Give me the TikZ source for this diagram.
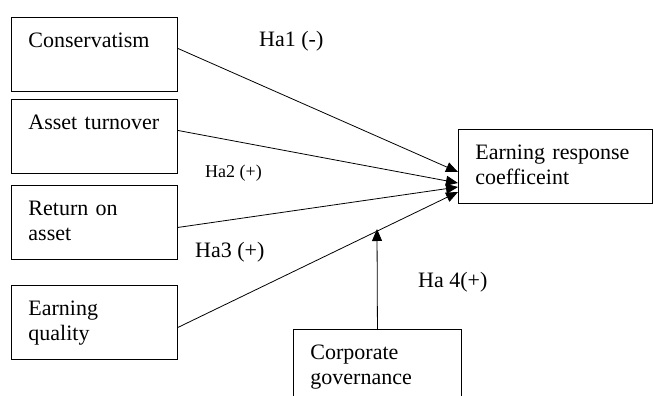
\documentclass[tikz,border=0pt]{standalone}
\usepackage{fontspec}
\setmainfont{Liberation Serif}
\usetikzlibrary{arrows.meta}
\begin{document}
\begin{tikzpicture}[x=1pt,y=-1pt]
        \tikzstyle{varbox}=[draw, line width=0.9pt, anchor=north west, align=left, inner xsep=17pt, inner ysep=0pt, text height=30pt, text depth=44pt, font=\fontsize{22}{25}\selectfont]
        \tikzstyle{hyp}=[anchor=base west, inner sep=0pt, font=\fontsize{22}{25}\selectfont]
        \tikzstyle{link}=[-{Triangle[length=12pt,width=10pt]}, line width=0.8pt]
        \clip (0,0) rectangle (654,396);
        \node[varbox, text width=132pt] (cons) at (11,17) {Conservatism};
        \node[varbox, text width=132pt] (turn) at (11,99) {Asset turnover};
        \node[varbox, text width=132pt] (roa) at (11,185) {Return on\\asset};
        \node[varbox, text width=132pt] (eq) at (11,285) {Earning\\quality};
        \node[varbox, text width=160pt] (erc) at (458,129) {Earning response\\coefficeint};
        \node[varbox, text width=134pt] (corp) at (293,329) {Corporate\\governance};
        \coordinate (t1) at (458,172);
        \coordinate (t2) at (458,183);
        \coordinate (t3) at (458,187);
        \coordinate (t4) at (458,192);
        \coordinate (mod) at (377,229);
        \path[link] ([yshift=6pt]cons.east) edge (t1);
        \path[link] ([yshift=6pt]turn.east) edge (t2);
        \path[link] ([yshift=-5pt]roa.east) edge (t3);
        \path[link] ([yshift=-5pt]eq.east) edge (t4);
        \path[link] (corp.north) edge (mod);
        \node[hyp] (h1) at (259,47) {Ha1 (-)};
        \node[hyp, font=\fontsize{18}{20}\selectfont] (h2) at (205,177) {Ha2 (+)};
        \node[hyp] (h3) at (195,257) {Ha3 (+)};
        \node[hyp] (h4) at (418,287) {Ha 4(+)};
      \end{tikzpicture}
\end{document}
